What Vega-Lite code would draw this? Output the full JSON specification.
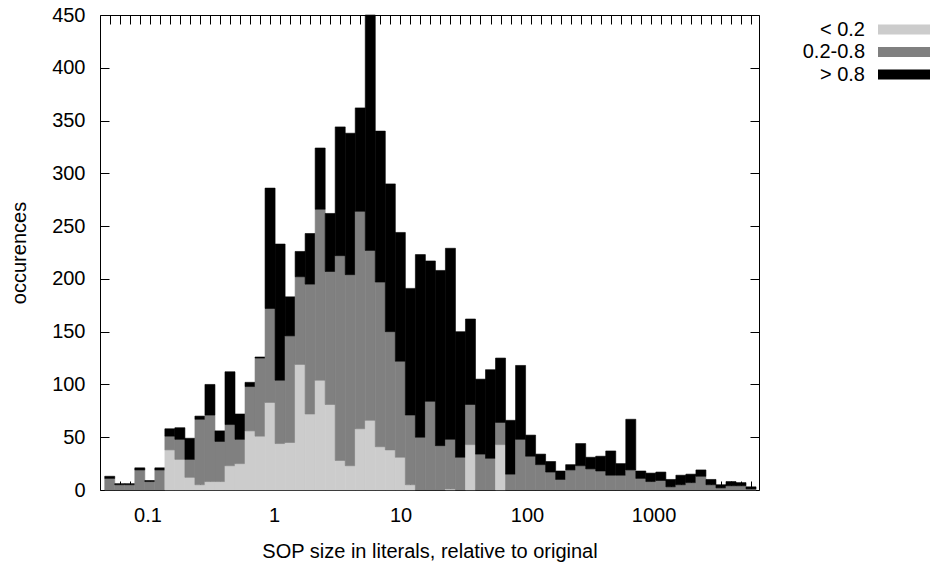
{
  "$schema": "https://vega.github.io/schema/vega-lite/v6.json",
  "width": 659,
  "height": 475,
  "autosize": "none",
  "padding": {"left": 100, "top": 15, "right": 177, "bottom": 76},
  "background": "white",
  "config": {
    "font": "Liberation Sans",
    "view": {"stroke": "black", "strokeWidth": 1},
    "axis": {
      "labelFont": "Liberation Sans", "labelFontSize": 20, "labelColor": "black",
      "titleFont": "Liberation Sans", "titleFontSize": 20, "titleFontWeight": "normal", "titleColor": "black",
      "tickColor": "black", "tickWidth": 1, "grid": false, "domain": false
    }
  },
  "data": {"values": [
    {"lo":0.046,"hi":0.0552,"cat":"0.2-0.8","rank":2,"n":11},{"lo":0.046,"hi":0.0552,"cat":"> 0.8","rank":3,"n":2},
    {"lo":0.0552,"hi":0.06624,"cat":"0.2-0.8","rank":2,"n":5},{"lo":0.0552,"hi":0.06624,"cat":"> 0.8","rank":3,"n":1},
    {"lo":0.06624,"hi":0.079488,"cat":"0.2-0.8","rank":2,"n":5},{"lo":0.06624,"hi":0.079488,"cat":"> 0.8","rank":3,"n":1},
    {"lo":0.079488,"hi":0.095386,"cat":"0.2-0.8","rank":2,"n":19},{"lo":0.079488,"hi":0.095386,"cat":"> 0.8","rank":3,"n":2},
    {"lo":0.095386,"hi":0.11446,"cat":"0.2-0.8","rank":2,"n":8},{"lo":0.095386,"hi":0.11446,"cat":"> 0.8","rank":3,"n":1},
    {"lo":0.11446,"hi":0.13736,"cat":"0.2-0.8","rank":2,"n":19},{"lo":0.11446,"hi":0.13736,"cat":"> 0.8","rank":3,"n":2},
    {"lo":0.13736,"hi":0.16483,"cat":"< 0.2","rank":1,"n":38},{"lo":0.13736,"hi":0.16483,"cat":"0.2-0.8","rank":2,"n":13},{"lo":0.13736,"hi":0.16483,"cat":"> 0.8","rank":3,"n":7},
    {"lo":0.16483,"hi":0.19779,"cat":"< 0.2","rank":1,"n":29},{"lo":0.16483,"hi":0.19779,"cat":"0.2-0.8","rank":2,"n":19},{"lo":0.16483,"hi":0.19779,"cat":"> 0.8","rank":3,"n":11},
    {"lo":0.19779,"hi":0.23735,"cat":"< 0.2","rank":1,"n":12},{"lo":0.19779,"hi":0.23735,"cat":"0.2-0.8","rank":2,"n":17},{"lo":0.19779,"hi":0.23735,"cat":"> 0.8","rank":3,"n":20},
    {"lo":0.23735,"hi":0.28482,"cat":"< 0.2","rank":1,"n":5},{"lo":0.23735,"hi":0.28482,"cat":"0.2-0.8","rank":2,"n":62},{"lo":0.23735,"hi":0.28482,"cat":"> 0.8","rank":3,"n":3},
    {"lo":0.28482,"hi":0.34178,"cat":"< 0.2","rank":1,"n":8},{"lo":0.28482,"hi":0.34178,"cat":"0.2-0.8","rank":2,"n":63},{"lo":0.28482,"hi":0.34178,"cat":"> 0.8","rank":3,"n":29},
    {"lo":0.34178,"hi":0.41014,"cat":"< 0.2","rank":1,"n":8},{"lo":0.34178,"hi":0.41014,"cat":"0.2-0.8","rank":2,"n":38},{"lo":0.34178,"hi":0.41014,"cat":"> 0.8","rank":3,"n":10},
    {"lo":0.41014,"hi":0.49217,"cat":"< 0.2","rank":1,"n":23},{"lo":0.41014,"hi":0.49217,"cat":"0.2-0.8","rank":2,"n":39},{"lo":0.41014,"hi":0.49217,"cat":"> 0.8","rank":3,"n":50},
    {"lo":0.49217,"hi":0.5906,"cat":"< 0.2","rank":1,"n":25},{"lo":0.49217,"hi":0.5906,"cat":"0.2-0.8","rank":2,"n":23},{"lo":0.49217,"hi":0.5906,"cat":"> 0.8","rank":3,"n":24},
    {"lo":0.5906,"hi":0.70872,"cat":"< 0.2","rank":1,"n":56},{"lo":0.5906,"hi":0.70872,"cat":"0.2-0.8","rank":2,"n":42},{"lo":0.5906,"hi":0.70872,"cat":"> 0.8","rank":3,"n":4},
    {"lo":0.70872,"hi":0.85047,"cat":"< 0.2","rank":1,"n":51},{"lo":0.70872,"hi":0.85047,"cat":"0.2-0.8","rank":2,"n":74},{"lo":0.70872,"hi":0.85047,"cat":"> 0.8","rank":3,"n":1},
    {"lo":0.85047,"hi":1.0206,"cat":"< 0.2","rank":1,"n":83},{"lo":0.85047,"hi":1.0206,"cat":"0.2-0.8","rank":2,"n":89},{"lo":0.85047,"hi":1.0206,"cat":"> 0.8","rank":3,"n":114},
    {"lo":1.0206,"hi":1.2247,"cat":"< 0.2","rank":1,"n":44},{"lo":1.0206,"hi":1.2247,"cat":"0.2-0.8","rank":2,"n":60},{"lo":1.0206,"hi":1.2247,"cat":"> 0.8","rank":3,"n":129},
    {"lo":1.2247,"hi":1.4696,"cat":"< 0.2","rank":1,"n":45},{"lo":1.2247,"hi":1.4696,"cat":"0.2-0.8","rank":2,"n":101},{"lo":1.2247,"hi":1.4696,"cat":"> 0.8","rank":3,"n":37},
    {"lo":1.4696,"hi":1.7635,"cat":"< 0.2","rank":1,"n":119},{"lo":1.4696,"hi":1.7635,"cat":"0.2-0.8","rank":2,"n":83},{"lo":1.4696,"hi":1.7635,"cat":"> 0.8","rank":3,"n":24},
    {"lo":1.7635,"hi":2.1162,"cat":"< 0.2","rank":1,"n":72},{"lo":1.7635,"hi":2.1162,"cat":"0.2-0.8","rank":2,"n":123},{"lo":1.7635,"hi":2.1162,"cat":"> 0.8","rank":3,"n":48},
    {"lo":2.1162,"hi":2.5395,"cat":"< 0.2","rank":1,"n":104},{"lo":2.1162,"hi":2.5395,"cat":"0.2-0.8","rank":2,"n":162},{"lo":2.1162,"hi":2.5395,"cat":"> 0.8","rank":3,"n":58},
    {"lo":2.5395,"hi":3.0474,"cat":"< 0.2","rank":1,"n":81},{"lo":2.5395,"hi":3.0474,"cat":"0.2-0.8","rank":2,"n":126},{"lo":2.5395,"hi":3.0474,"cat":"> 0.8","rank":3,"n":55},
    {"lo":3.0474,"hi":3.6569,"cat":"< 0.2","rank":1,"n":28},{"lo":3.0474,"hi":3.6569,"cat":"0.2-0.8","rank":2,"n":194},{"lo":3.0474,"hi":3.6569,"cat":"> 0.8","rank":3,"n":122},
    {"lo":3.6569,"hi":4.3882,"cat":"< 0.2","rank":1,"n":23},{"lo":3.6569,"hi":4.3882,"cat":"0.2-0.8","rank":2,"n":181},{"lo":3.6569,"hi":4.3882,"cat":"> 0.8","rank":3,"n":134},
    {"lo":4.3882,"hi":5.2659,"cat":"< 0.2","rank":1,"n":58},{"lo":4.3882,"hi":5.2659,"cat":"0.2-0.8","rank":2,"n":206},{"lo":4.3882,"hi":5.2659,"cat":"> 0.8","rank":3,"n":98},
    {"lo":5.2659,"hi":6.319,"cat":"< 0.2","rank":1,"n":66},{"lo":5.2659,"hi":6.319,"cat":"0.2-0.8","rank":2,"n":161},{"lo":5.2659,"hi":6.319,"cat":"> 0.8","rank":3,"n":223},
    {"lo":6.319,"hi":7.5829,"cat":"< 0.2","rank":1,"n":41},{"lo":6.319,"hi":7.5829,"cat":"0.2-0.8","rank":2,"n":156},{"lo":6.319,"hi":7.5829,"cat":"> 0.8","rank":3,"n":143},
    {"lo":7.5829,"hi":9.0994,"cat":"< 0.2","rank":1,"n":38},{"lo":7.5829,"hi":9.0994,"cat":"0.2-0.8","rank":2,"n":112},{"lo":7.5829,"hi":9.0994,"cat":"> 0.8","rank":3,"n":140},
    {"lo":9.0994,"hi":10.919,"cat":"< 0.2","rank":1,"n":31},{"lo":9.0994,"hi":10.919,"cat":"0.2-0.8","rank":2,"n":91},{"lo":9.0994,"hi":10.919,"cat":"> 0.8","rank":3,"n":122},
    {"lo":10.919,"hi":13.103,"cat":"< 0.2","rank":1,"n":5},{"lo":10.919,"hi":13.103,"cat":"0.2-0.8","rank":2,"n":66},{"lo":10.919,"hi":13.103,"cat":"> 0.8","rank":3,"n":120},
    {"lo":13.103,"hi":15.724,"cat":"0.2-0.8","rank":2,"n":50},{"lo":13.103,"hi":15.724,"cat":"> 0.8","rank":3,"n":173},
    {"lo":15.724,"hi":18.869,"cat":"0.2-0.8","rank":2,"n":84},{"lo":15.724,"hi":18.869,"cat":"> 0.8","rank":3,"n":133},
    {"lo":18.869,"hi":22.642,"cat":"0.2-0.8","rank":2,"n":42},{"lo":18.869,"hi":22.642,"cat":"> 0.8","rank":3,"n":166},
    {"lo":22.642,"hi":27.171,"cat":"< 0.2","rank":1,"n":1},{"lo":22.642,"hi":27.171,"cat":"0.2-0.8","rank":2,"n":47},{"lo":22.642,"hi":27.171,"cat":"> 0.8","rank":3,"n":181},
    {"lo":27.171,"hi":32.605,"cat":"0.2-0.8","rank":2,"n":31},{"lo":27.171,"hi":32.605,"cat":"> 0.8","rank":3,"n":119},
    {"lo":32.605,"hi":39.126,"cat":"< 0.2","rank":1,"n":43},{"lo":32.605,"hi":39.126,"cat":"0.2-0.8","rank":2,"n":38},{"lo":32.605,"hi":39.126,"cat":"> 0.8","rank":3,"n":81},
    {"lo":39.126,"hi":46.951,"cat":"0.2-0.8","rank":2,"n":34},{"lo":39.126,"hi":46.951,"cat":"> 0.8","rank":3,"n":71},
    {"lo":46.951,"hi":56.341,"cat":"0.2-0.8","rank":2,"n":30},{"lo":46.951,"hi":56.341,"cat":"> 0.8","rank":3,"n":84},
    {"lo":56.341,"hi":67.609,"cat":"< 0.2","rank":1,"n":43},{"lo":56.341,"hi":67.609,"cat":"0.2-0.8","rank":2,"n":21},{"lo":56.341,"hi":67.609,"cat":"> 0.8","rank":3,"n":61},
    {"lo":67.609,"hi":81.131,"cat":"0.2-0.8","rank":2,"n":15},{"lo":67.609,"hi":81.131,"cat":"> 0.8","rank":3,"n":51},
    {"lo":81.131,"hi":97.358,"cat":"0.2-0.8","rank":2,"n":48},{"lo":81.131,"hi":97.358,"cat":"> 0.8","rank":3,"n":70},
    {"lo":97.358,"hi":116.83,"cat":"0.2-0.8","rank":2,"n":32},{"lo":97.358,"hi":116.83,"cat":"> 0.8","rank":3,"n":20},
    {"lo":116.83,"hi":140.2,"cat":"0.2-0.8","rank":2,"n":24},{"lo":116.83,"hi":140.2,"cat":"> 0.8","rank":3,"n":10},
    {"lo":140.2,"hi":168.23,"cat":"0.2-0.8","rank":2,"n":17},{"lo":140.2,"hi":168.23,"cat":"> 0.8","rank":3,"n":10},
    {"lo":168.23,"hi":201.88,"cat":"0.2-0.8","rank":2,"n":10},{"lo":168.23,"hi":201.88,"cat":"> 0.8","rank":3,"n":8},
    {"lo":201.88,"hi":242.26,"cat":"0.2-0.8","rank":2,"n":19},{"lo":201.88,"hi":242.26,"cat":"> 0.8","rank":3,"n":5},
    {"lo":242.26,"hi":290.71,"cat":"0.2-0.8","rank":2,"n":23},{"lo":242.26,"hi":290.71,"cat":"> 0.8","rank":3,"n":21},
    {"lo":290.71,"hi":348.85,"cat":"0.2-0.8","rank":2,"n":20},{"lo":290.71,"hi":348.85,"cat":"> 0.8","rank":3,"n":11},
    {"lo":348.85,"hi":418.62,"cat":"0.2-0.8","rank":2,"n":18},{"lo":348.85,"hi":418.62,"cat":"> 0.8","rank":3,"n":14},
    {"lo":418.62,"hi":502.34,"cat":"0.2-0.8","rank":2,"n":14},{"lo":418.62,"hi":502.34,"cat":"> 0.8","rank":3,"n":23},
    {"lo":502.34,"hi":602.81,"cat":"0.2-0.8","rank":2,"n":14},{"lo":502.34,"hi":602.81,"cat":"> 0.8","rank":3,"n":11},
    {"lo":602.81,"hi":723.38,"cat":"0.2-0.8","rank":2,"n":19},{"lo":602.81,"hi":723.38,"cat":"> 0.8","rank":3,"n":48},
    {"lo":723.38,"hi":868.05,"cat":"0.2-0.8","rank":2,"n":11},{"lo":723.38,"hi":868.05,"cat":"> 0.8","rank":3,"n":7},
    {"lo":868.05,"hi":1041.7,"cat":"0.2-0.8","rank":2,"n":8},{"lo":868.05,"hi":1041.7,"cat":"> 0.8","rank":3,"n":8},
    {"lo":1041.7,"hi":1250,"cat":"0.2-0.8","rank":2,"n":9},{"lo":1041.7,"hi":1250,"cat":"> 0.8","rank":3,"n":8},
    {"lo":1250,"hi":1500,"cat":"0.2-0.8","rank":2,"n":3},{"lo":1250,"hi":1500,"cat":"> 0.8","rank":3,"n":7},
    {"lo":1500,"hi":1800,"cat":"0.2-0.8","rank":2,"n":5},{"lo":1500,"hi":1800,"cat":"> 0.8","rank":3,"n":9},
    {"lo":1800,"hi":2160,"cat":"0.2-0.8","rank":2,"n":7},{"lo":1800,"hi":2160,"cat":"> 0.8","rank":3,"n":8},
    {"lo":2160,"hi":2592,"cat":"0.2-0.8","rank":2,"n":13},{"lo":2160,"hi":2592,"cat":"> 0.8","rank":3,"n":6},
    {"lo":2592,"hi":3110.4,"cat":"0.2-0.8","rank":2,"n":5},{"lo":2592,"hi":3110.4,"cat":"> 0.8","rank":3,"n":5},
    {"lo":3110.4,"hi":3732.5,"cat":"0.2-0.8","rank":2,"n":2},{"lo":3110.4,"hi":3732.5,"cat":"> 0.8","rank":3,"n":3},
    {"lo":3732.5,"hi":4479,"cat":"0.2-0.8","rank":2,"n":4},{"lo":3732.5,"hi":4479,"cat":"> 0.8","rank":3,"n":4},
    {"lo":4479,"hi":5374.7,"cat":"0.2-0.8","rank":2,"n":4},{"lo":4479,"hi":5374.7,"cat":"> 0.8","rank":3,"n":3},
    {"lo":5374.7,"hi":6449.7,"cat":"0.2-0.8","rank":2,"n":1},{"lo":5374.7,"hi":6449.7,"cat":"> 0.8","rank":3,"n":2}
  ]},
  "transform": [
    {"stack": "n", "groupby": ["lo"], "sort": [{"field": "rank", "order": "ascending"}], "as": ["y0", "y1"]}
  ],
  "resolve": {"axis": {"x": "independent", "y": "independent"}},
  "layer": [
    {
      "mark": {"type": "bar", "opacity": 0},
      "encoding": {
        "x": {"field": "lo", "type": "quantitative",
          "scale": {"type": "log", "domain": [0.0422, 6806], "nice": false},
          "axis": {"orient": "top", "labels": false, "tickSize": -9, "title": null,
            "values": [0.05039,0.060469,0.072562,0.087075,0.10449,0.12539,0.15047,0.18056,0.21667,0.26,0.312,0.3744,0.44929,0.53914,0.64697,0.77637,0.93164,1.118,1.3416,1.6099,1.9318,2.3182,2.7819,3.3382,4.0059,4.8071,5.7685,6.9222,8.3066,9.9679,11.961,14.354,17.225,20.669,24.803,29.764,35.717,42.86,51.432,61.719,74.062,88.875,106.65,127.98,153.58,184.29,221.15,265.38,318.45,382.15,458.58,550.29,660.35,792.42,950.9,1141.1,1369.3,1643.2,1971.8,2366.1,2839.4,3407.3,4088.7,4906.4,5887.7]}},
        "x2": {"field": "hi"},
        "y": {"field": "y1", "type": "quantitative",
          "scale": {"domain": [0, 450], "nice": false},
          "axis": {"orient": "right", "labels": false, "tickSize": -9, "title": null,
            "values": [0,50,100,150,200,250,300,350,400,450]}},
        "y2": {"field": "y0"}
      }
    },
    {
      "mark": {"type": "bar", "strokeWidth": 0.6},
      "encoding": {
        "x": {"field": "lo", "type": "quantitative",
          "scale": {"type": "log", "domain": [0.0422, 6806], "nice": false},
          "axis": {"orient": "bottom", "title": "SOP size in literals, relative to original",
            "tickSize": -9, "labelPadding": 24.5, "titlePadding": 16,
            "labelOverlap": false, "labelFlush": false, "labelBound": false,
            "labelExpr": "abs(log(datum.value)/LN10 - round(log(datum.value)/LN10)) < 0.000001 ? format(datum.value, '~g') : ''",
            "tickOpacity": {"condition": {"test": "abs(log(datum.value)/LN10 - round(log(datum.value)/LN10)) < 0.000001", "value": 0}, "value": 1},
            "values": [0.1,1,10,100,1000,0.05039,0.060469,0.072562,0.087075,0.10449,0.12539,0.15047,0.18056,0.21667,0.26,0.312,0.3744,0.44929,0.53914,0.64697,0.77637,0.93164,1.118,1.3416,1.6099,1.9318,2.3182,2.7819,3.3382,4.0059,4.8071,5.7685,6.9222,8.3066,9.9679,11.961,14.354,17.225,20.669,24.803,29.764,35.717,42.86,51.432,61.719,74.062,88.875,106.65,127.98,153.58,184.29,221.15,265.38,318.45,382.15,458.58,550.29,660.35,792.42,950.9,1141.1,1369.3,1643.2,1971.8,2366.1,2839.4,3407.3,4088.7,4906.4,5887.7]}},
        "x2": {"field": "hi"},
        "y": {"field": "y1", "type": "quantitative",
          "scale": {"domain": [0, 450], "nice": false},
          "axis": {"orient": "left", "title": "occurences", "tickSize": -9, "labelPadding": 24, "titlePadding": 22,
            "values": [0,50,100,150,200,250,300,350,400,450]}},
        "y2": {"field": "y0"},
        "color": {"field": "cat", "type": "nominal",
          "scale": {"domain": ["< 0.2", "0.2-0.8", "> 0.8"], "range": ["#cccccc", "#808080", "#000000"]},
          "legend": {"orient": "none", "legendX": 794, "legendY": 4.5, "title": null,
            "symbolType": "M-2.6,-0.5H2.6V0.5H-2.6Z", "symbolSize": 400, "symbolStrokeWidth": 0, "symbolOpacity": 1,
            "labelAlign": "right", "labelOffset": -49, "labelFontSize": 20, "labelFont": "Liberation Sans", "labelColor": "black",
            "labelLimit": 300, "rowPadding": 2.5, "padding": 0}},
        "stroke": {"field": "cat", "type": "nominal",
          "scale": {"domain": ["< 0.2", "0.2-0.8", "> 0.8"], "range": ["#cccccc", "#808080", "#000000"]},
          "legend": null}
      }
    }
  ]
}
